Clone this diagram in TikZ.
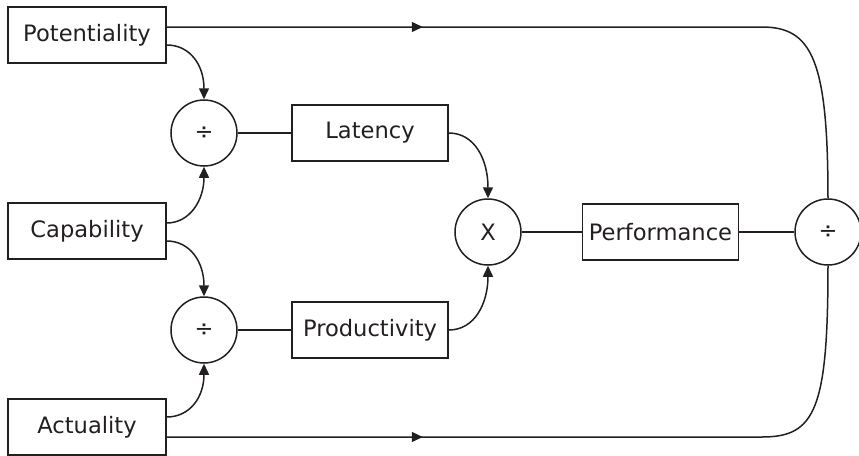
\documentclass[tikz,border=0pt]{standalone}
\usepackage{fontspec}
\setmainfont{DejaVu Sans}
\usetikzlibrary{arrows.meta,decorations.markings}
\definecolor{ink}{HTML}{231F20}
\begin{document}
\begin{tikzpicture}[x=0.5pt,y=-0.5pt,
  every node/.style={font=\fontsize{11.3}{13}\selectfont, text=ink},
  box/.style={draw=ink, line width=0.75pt, minimum width=78pt, minimum height=28pt, inner sep=0pt},
  op/.style={draw=ink, circle, line width=0.75pt, minimum size=33pt, inner sep=0pt},
  conn/.style={draw=ink, line width=0.75pt},
  arr/.style={conn, -{Triangle[length=5.5pt,width=5pt]}},
  midarr/.style={conn, postaction={decorate}, decoration={markings,
     mark=at position 128pt with {\arrow{Triangle[length=5.5pt,width=5pt]}}}}
]
\useasboundingbox (0,0) rectangle (859,456);
\node[box, minimum width=79pt] (pot) at (87,35) {Potentiality};
\node[box, minimum width=79pt] (cap) at (87,231) {Capability};
\node[box, minimum width=79pt] (act) at (87,427) {Actuality};
\node[op] (d1) at (204,133) {÷};
\node[op] (d2) at (204,330) {÷};
\node[box] (lat) at (370,133) {Latency};
\node[box] (pro) at (370,330) {Productivity};
\node[op] (mul) at (488,232) {X};
\node[box] (perf) at (660.5,232) {Performance};
\node[op] (d3) at (828,232) {÷};
\coordinate (tc) at (762,27);
\coordinate (bc) at (762,437);

\draw[arr] ([yshift=-5pt]pot.east) .. controls (190,45) and (204,65) .. (d1.north);
\draw[arr] ([yshift=4pt]cap.east) .. controls (190,223) and (204,200) .. (d1.south);
\draw[arr] ([yshift=-5pt]cap.east) .. controls (190,241) and (204,262) .. (d2.north);
\draw[arr] ([yshift=5pt]act.east) .. controls (190,417) and (204,397) .. (d2.south);
\draw[conn] (d1) -- (lat);
\draw[conn] (d2) -- (pro);
\draw[arr] (lat.east) .. controls (475,133) and (488,160) .. (mul.north);
\draw[arr] (pro.east) .. controls (475,330) and (488,303) .. (mul.south);
\draw[conn] (mul) -- (perf);
\draw[conn] (perf) -- (d3);
\draw[midarr] ([yshift=4pt]pot.east) -- (tc) .. controls (812,27) and (828,60) .. (d3.north);
\draw[midarr] ([yshift=-5pt]act.east) -- (bc) .. controls (815,437) and (828,410) .. (d3.south);
\end{tikzpicture}
\end{document}
